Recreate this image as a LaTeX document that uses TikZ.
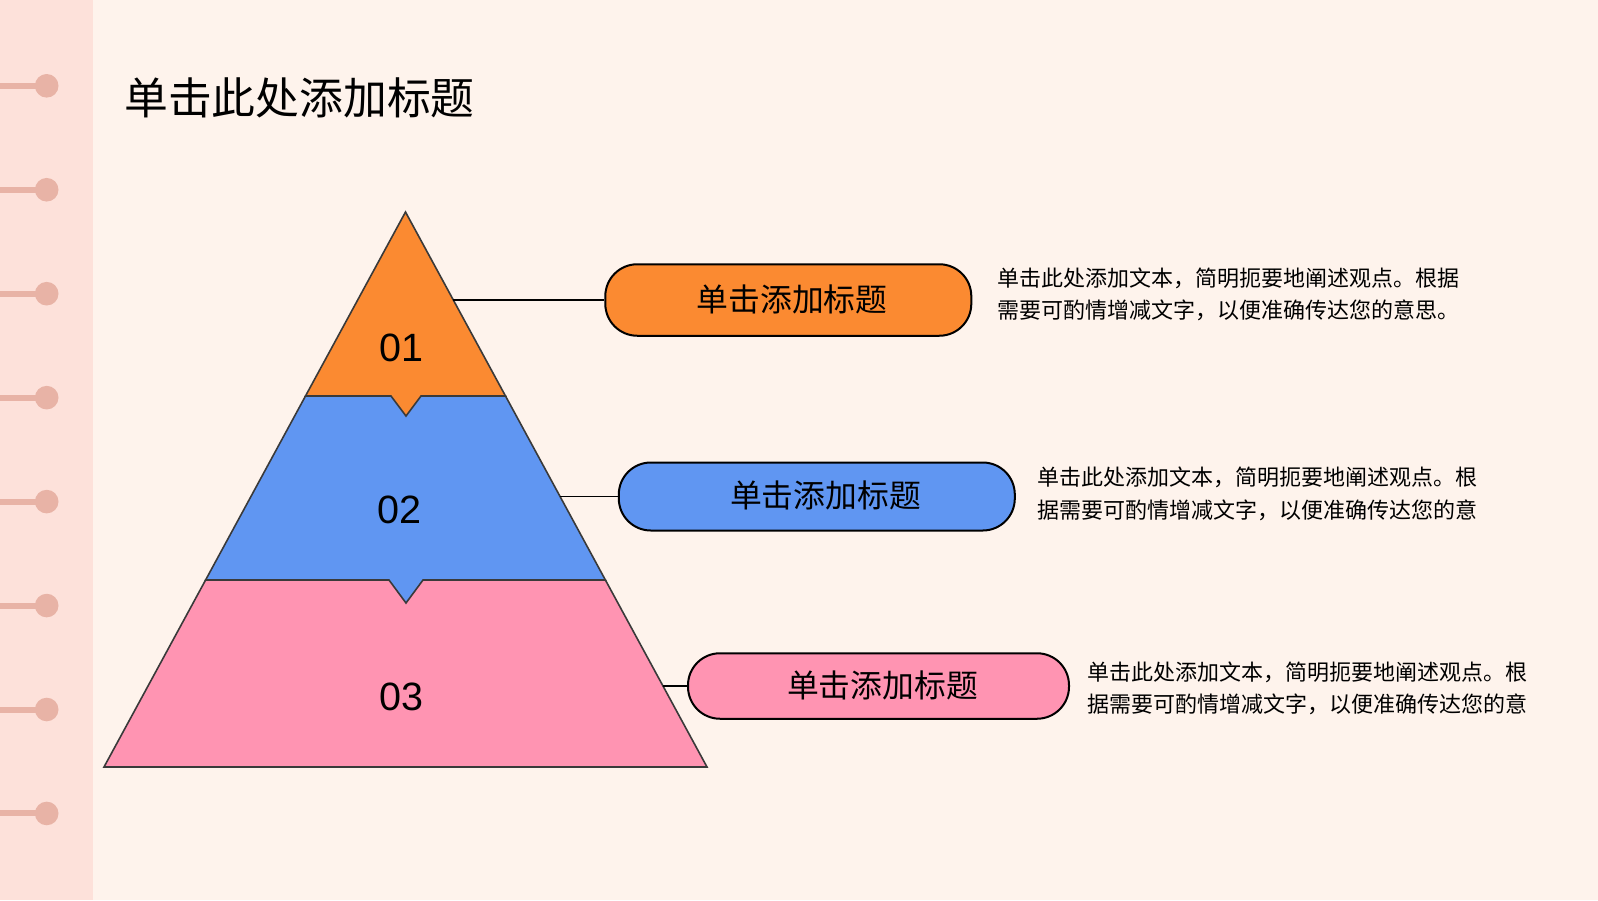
\documentclass[tikz,border=0pt]{standalone}
\usepackage{fontspec}
\setmainfont{Liberation Sans}
\newfontfamily\cjk{Noto Sans CJK SC}
\definecolor{bgc}{HTML}{FEF3EC}
\definecolor{stripc}{HTML}{FDE1DA}
\definecolor{pinc}{HTML}{E8B3A6}
\definecolor{orng}{HTML}{FB8A31}
\definecolor{blu}{HTML}{6096F2}
\definecolor{pnk}{HTML}{FF94B2}
\definecolor{edgec}{HTML}{3A3A3A}
\tikzset{
  layer/.style={draw=edgec, line width=1.6pt, line join=miter},
  pill/.style={draw=black, line width=2pt, rounded corners=32pt, minimum height=#1, inner sep=0pt},
  pilltext/.style={font=\cjk\fontsize{31.8}{36}\selectfont, text=black, inner sep=0pt},
  desc/.style={font=\cjk\fontsize{22}{32.6}\selectfont, align=left, anchor=west, inner sep=0pt, text=black},
  numtext/.style={font=\fontsize{39.5}{44}\selectfont, inner sep=0pt},
  conn/.style={draw=black, line width=1.6pt},
  pinline/.style={draw=pinc, line width=6pt},
}
\begin{document}
\begin{tikzpicture}[x=1pt,y=-1pt]
\useasboundingbox (0,0) rectangle (1598,900);
\fill[bgc] (0,0) rectangle (1598,900);
\fill[stripc] (0,0) rectangle (93,900);
% pins
\foreach \i in {0,...,7}{
  \pgfmathsetmacro{\py}{85.8+103.95*\i}
  \draw[pinline] (0,\py) -- (40,\py);
  \fill[pinc] (46.7,\py) circle (11.8);
}
% title
\node[font=\cjk\fontsize{43.8}{50}\selectfont, anchor=west, inner sep=0pt] (title) at (124,98) {单击此处添加标题};
% pyramid layers
\path[layer, fill=pnk] (205.6,580) -- (605.4,580) -- (707,767) -- (104,767) -- cycle;
\path[layer, fill=blu] (305.5,396) -- (505.5,396) -- (605.4,580) -- (423,580) -- (406,603) -- (389,580) -- (205.6,580) -- cycle;
\path[layer, fill=orng] (405.5,212) -- (505.5,396) -- (421,396) -- (406,416) -- (391,396) -- (305.5,396) -- cycle;
\node[numtext] (n1) at (401.5,347.5) {01};
\node[numtext] (n2) at (399.5,509.5) {02};
\node[numtext] (n3) at (401.5,697) {03};
% edge points
\coordinate (e1) at (453.3,300);
\coordinate (e2) at (560,496.5);
\coordinate (e3) at (663,686);
% pills
\node[pill=71.5pt, fill=orng, minimum width=366pt] (p1) at (788.3,300) {};
\node[pill=68pt, fill=blu, minimum width=396pt] (p2) at (816.8,496.5) {};
\node[pill=65.5pt, fill=pnk, minimum width=381pt] (p3) at (878.5,686) {};
\node[pilltext] (t1) at (792,299) {单击添加标题};
\node[pilltext] (t2) at (825.5,495.5) {单击添加标题};
\node[pilltext] (t3) at (882.5,685) {单击添加标题};
% connectors
\draw[conn] (e1) -- (p1.west);
\draw[conn] (e2) -- (p2.west);
\draw[conn] (e3) -- (p3.west);
% descriptions
\node[desc] (d1) at (997.7,294.5) {单击此处添加文本，简明扼要地阐述观点。根据\\需要可酌情增减文字，以便准确传达您的意思。};
\node[desc] (d2) at (1037.5,493.8) {单击此处添加文本，简明扼要地阐述观点。根\\据需要可酌情增减文字，以便准确传达您的意};
\node[desc] (d3) at (1087.4,688.4) {单击此处添加文本，简明扼要地阐述观点。根\\据需要可酌情增减文字，以便准确传达您的意};
\end{tikzpicture}
\end{document}
